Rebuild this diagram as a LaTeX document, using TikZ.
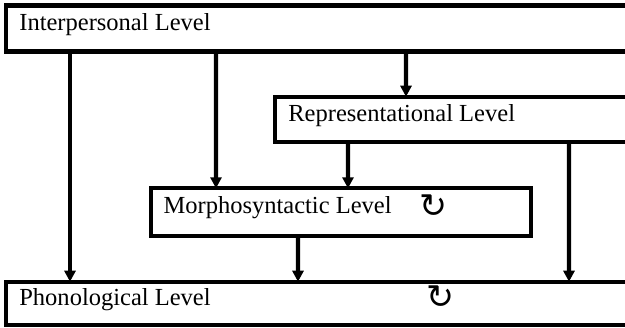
\documentclass[tikz,border=0pt]{standalone}
\usepackage{fontspec}
\setmainfont{Liberation Serif}
\newfontfamily\symfont{DejaVu Sans}
\usetikzlibrary{arrows.meta}
\tikzset{
  levelbox/.style={draw,line width=2.3pt,inner sep=0pt,outer sep=0pt,anchor=north west},
  lbl/.style={anchor=base west,inner sep=0pt,font=\fontsize{13.95}{16}\selectfont},
  cyc/.style={inner sep=0pt,font=\fontsize{19}{20}\symfont},
  flow/.style={line width=2.3pt,-{Triangle[length=0.22cm,width=0.22cm]}}
}
\begin{document}
\begin{tikzpicture}
\useasboundingbox (0,0) rectangle (12.5,-6.54);
\clip (0,0) rectangle (12.5,-6.54);
% the four levels (open to the right)
   \node[levelbox,minimum width=13.88cm,minimum height=0.92cm] (ip) at (0.12,-0.11) {};
   \node[levelbox,minimum width=8.5cm,minimum height=0.9cm] (rep) at (5.5,-1.934) {};
   \node[levelbox,minimum width=7.6cm,minimum height=0.948cm] (ms) at (3.014,-3.766) {};
   \node[levelbox,minimum width=13.88cm,minimum height=0.866cm] (ph) at (0.12,-5.634) {};
   \node[lbl] (iptext) at ([shift={(0.26,-0.5)}]ip.north west) {Interpersonal Level};
   \node[lbl] (reptext) at ([shift={(0.26,-0.5)}]rep.north west) {Representational Level};
   \node[lbl] (mstext) at ([shift={(0.25,-0.5)}]ms.north west) {Morphosyntactic Level};
   \node[lbl] (phtext) at ([shift={(0.26,-0.47)}]ph.north west) {Phonological Level};
   \node[cyc] (mscyc) at (8.66,-4.12) {↻};
   \node[cyc] (phcyc) at (8.8,-5.95) {↻};
% connections
\begin{scope}[flow]
   \draw ([xshift=1.28cm]ip.south west) -- ([xshift=1.28cm]ph.north west);
   \draw ([xshift=4.2cm]ip.south west) -- ([xshift=1.306cm]ms.north west);
   \draw ([xshift=8cm]ip.south west) -- ([xshift=2.62cm]rep.north west);
   \draw ([xshift=1.46cm]rep.south west) -- ([xshift=3.946cm]ms.north west);
   \draw ([xshift=5.88cm]rep.south west) -- ([xshift=11.26cm]ph.north west);
   \draw ([xshift=2.946cm]ms.south west) -- ([xshift=5.84cm]ph.north west);
\end{scope}
\end{tikzpicture}
\end{document}
